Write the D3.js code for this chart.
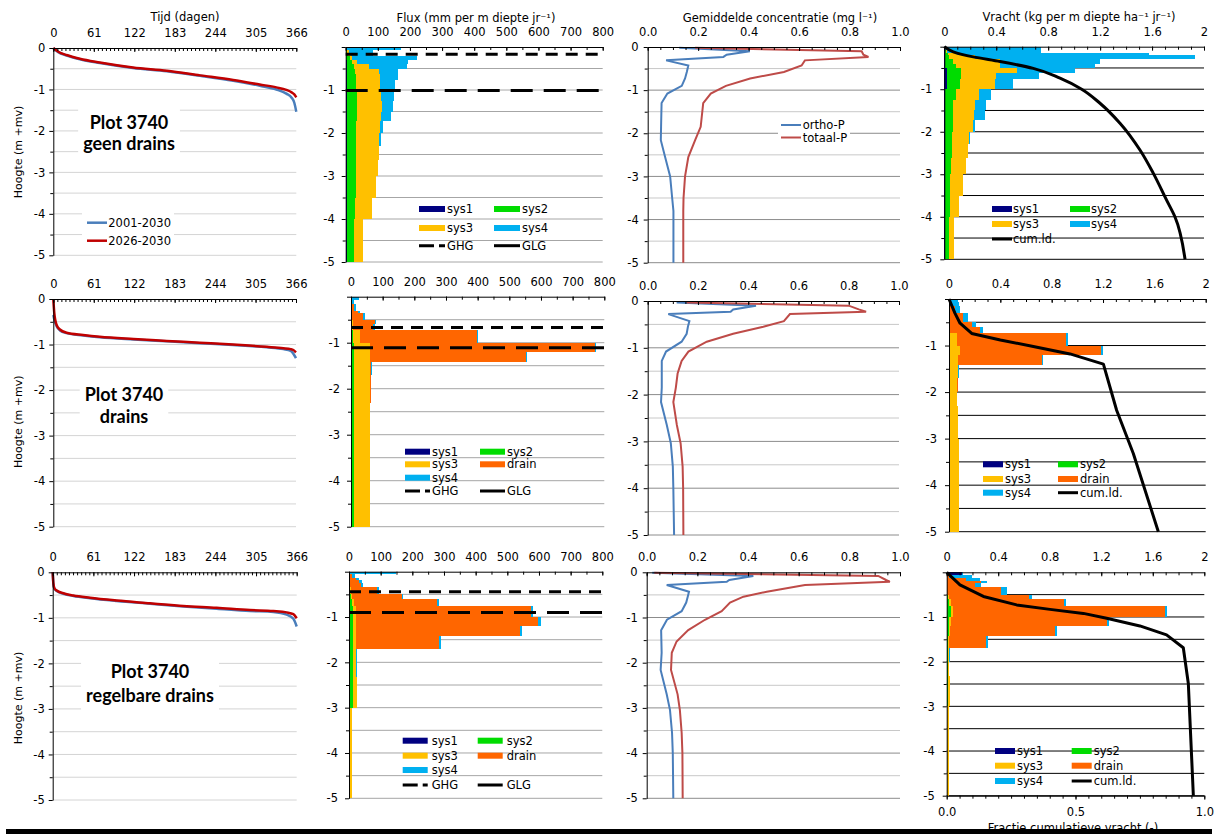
<!DOCTYPE html>
<html>
<head>
<meta charset="utf-8">
<title>Plot 3740 – grondwaterstand, flux, concentratie en vracht</title>
<script src="https://cdn.jsdelivr.net/npm/d3@7/dist/d3.min.js"></script>
<style>
  html, body { margin: 0; padding: 0; background: #fff; }
  svg { display: block; }
</style>
</head>
<body>
<svg id="chart" width="1220" height="834"></svg>
<script>
// ================= data =================
const plotName = "Plot 3740";
const scenarios = ["geen drains", "drains", "regelbare drains"];
const periods = ["2001-2030", "2026-2030"];
const concNames = ["ortho-P", "totaal-P"];
const levelNames = ["GHG", "GLG"];
const cumName = "cum.ld.";

const dayTicks = [0, 61, 122, 183, 244, 305, 366];
const fluxTicks = [0, 100, 200, 300, 400, 500, 600, 700, 800];
const concTicks = [0, 0.2, 0.4, 0.6, 0.8, 1.0];
const loadTicks = [0, 0.4, 0.8, 1.2, 1.6, 2];
const fractionTicks = [0, 0.5, 1.0];
const depthTicks = [0, -1, -2, -3, -4, -5];
const seriesKeys = ["sys1", "sys2", "sys3", "drain", "sys4"];

// --- groundwater duration lines (day of year sorted, depth m +mv)
const geenDays  = [0, 7.5, 20, 40, 70, 120, 171, 221, 271, 311, 336, 351, 359, 363, 366];
const geenHist  = [0, -0.1, -0.18, -0.27, -0.36, -0.48, -0.56, -0.67, -0.79, -0.91, -1.0, -1.1, -1.2, -1.32, -1.54];
const geenFut   = [0, -0.09, -0.17, -0.26, -0.35, -0.47, -0.55, -0.66, -0.77, -0.88, -0.95, -1.01, -1.07, -1.12, -1.19];
const drainDays = [0, 1.5, 5, 10, 20, 45, 70, 121, 171, 221, 271, 322, 347, 358, 362, 366];
const drainHist = [-0.35, -0.45, -0.6, -0.69, -0.75, -0.8, -0.84, -0.89, -0.93, -0.97, -1.01, -1.06, -1.1, -1.14, -1.2, -1.3];
const drainFut  = [0, -0.31, -0.57, -0.67, -0.74, -0.79, -0.83, -0.88, -0.92, -0.96, -1.0, -1.05, -1.08, -1.1, -1.12, -1.17];
const regelDays = [0, 1, 2.5, 6, 16, 31, 56, 96, 146, 196, 246, 296, 331, 351, 361, 366];
const regelHist = [0, -0.25, -0.36, -0.41, -0.47, -0.52, -0.57, -0.63, -0.69, -0.75, -0.8, -0.85, -0.87, -0.93, -1.02, -1.19];
const regelFut  = [0, -0.24, -0.35, -0.4, -0.46, -0.51, -0.56, -0.62, -0.68, -0.74, -0.78, -0.83, -0.85, -0.88, -0.92, -1.01];

// --- layer boundaries (m +mv)
const geenLayers  = [0, -0.08, -0.14, -0.2, -0.3, -0.4, -0.5, -0.63, -0.77, -1.0, -1.25, -1.5, -1.72, -2.0, -2.3, -2.62, -3.0, -3.5, -4.0, -5.0];
const drainLayers = [0, -0.07, -0.15, -0.3, -0.36, -0.5, -0.6, -0.73, -1.0, -1.2, -1.41, -1.7, -2.0, -2.3, -2.62, -3.0, -3.5, -4.0, -5.0];
const regelLayers = [0, -0.05, -0.13, -0.19, -0.25, -0.33, -0.5, -0.6, -0.75, -1.0, -1.2, -1.42, -1.7, -2.0, -2.32, -3.0, -3.5, -4.0, -5.0];

// --- flux per layer (mm per m depth per year)
const geenFluxSys1  = [0, 2, 2, 2, 3, 3, 3, 3, 3, 3, 3, 3, 3, 3, 3, 3, 3, 3, 3];
const geenFluxSys2  = [0, 3, 6, 12, 16, 22, 26, 28, 30, 31, 31, 31, 30, 30, 29, 29, 28, 26, 23];
const geenFluxSys3  = [0, 5, 7, 6, 17, 46, 76, 75, 74, 76, 78, 76, 74, 72, 73, 70, 62, 52, 27];
const geenFluxDrain = [0, 0, 0, 0, 0, 0, 0, 0, 0, 0, 0, 0, 0, 0, 0, 0, 0, 0, 0];
const geenFluxSys4  = [171, 76, 71, 201, 159, 121, 59, 58, 47, 40, 34, 31, 10, 5, 0, 0, 0, 0, 0];

const drainFluxSys1  = [0, 0, 0, 0, 1, 1, 1, 1, 2, 2, 2, 2, 2, 2, 2, 2, 2, 2];
const drainFluxSys2  = [0, 0, 0, 0, 1, 2, 3, 4, 6, 6, 6, 6, 6, 6, 6, 6, 6, 6];
const drainFluxSys3  = [0, 0, 0, 0, 0, 3, 3, 23, 52, 52, 52, 52, 52, 52, 52, 52, 52, 52];
const drainFluxDrain = [0, 3, 10, 22, 37, 69, 64, 369, 711, 493, 2, 4, 3, 0, 0, 0, 0, 0];
const drainFluxSys4  = [26, 8, 6, 6, 5, 5, 4, 5, 4, 4, 5, 0, 0, 0, 0, 0, 0, 0];

const regelFluxSys1  = [3, 1, 1, 1, 1, 1, 1, 1, 1, 1, 1, 1, 1, 1, 1, 1, 1, 1];
const regelFluxSys2  = [0, 0, 0, 1, 1, 2, 4, 8, 11, 11, 11, 11, 11, 11, 11, 1, 1, 1];
const regelFluxSys3  = [0, 0, 0, 0, 1, 2, 4, 6, 10, 10, 10, 10, 9, 9, 12, 8, 8, 8];
const regelFluxDrain = [0, 10, 22, 30, 35, 84, 157, 264, 553, 576, 518, 262, 0, 0, 0, 0, 0, 0];
const regelFluxSys4  = [144, 8, 10, 8, 6, 7, 6, 6, 7, 7, 7, 5, 5, 5, 0, 0, 0, 0];

// --- groundwater levels (m +mv): GHG, GLG
const geenLevels  = [-0.17, -1.01];
const drainLevels = [-0.67, -1.11];
const regelLevels = [-0.44, -0.9];

// --- mean concentrations (mg/l) at node depths
const geenNodes  = [-0.02, -0.1, -0.18, -0.23, -0.31, -0.43, -0.58, -0.73, -0.9, -1.08, -1.3, -1.85, -2.16, -2.55, -3.0, -3.5, -3.8, -5.0];
const geenOrtho  = [0.125, 0.405, 0.313, 0.3, 0.073, 0.161, 0.155, 0.148, 0.135, 0.078, 0.055, 0.053, 0.052, 0.069, 0.089, 0.097, 0.102, 0.102];
const geenTotal  = [0.188, 0.848, 0.855, 0.875, 0.623, 0.61, 0.54, 0.406, 0.31, 0.25, 0.22, 0.21, 0.188, 0.161, 0.148, 0.142, 0.141, 0.141];
const drainNodes = [-0.03, -0.1, -0.18, -0.23, -0.28, -0.43, -0.55, -0.7, -0.87, -1.08, -1.28, -1.55, -1.85, -2.16, -2.65, -3.04, -3.54, -4.0, -5.0];
const drainOrtho = [0.115, 0.431, 0.34, 0.33, 0.082, 0.166, 0.16, 0.155, 0.135, 0.073, 0.056, 0.056, 0.056, 0.053, 0.076, 0.092, 0.1, 0.102, 0.105];
const drainTotal = [0.155, 0.8, 0.84, 0.869, 0.566, 0.542, 0.46, 0.34, 0.235, 0.162, 0.135, 0.119, 0.112, 0.102, 0.116, 0.131, 0.139, 0.141, 0.142];
const regelNodes = [-0.01, -0.08, -0.17, -0.21, -0.28, -0.43, -0.54, -0.67, -0.86, -1.05, -1.28, -1.53, -1.78, -2.16, -2.7, -3.05, -3.55, -4.0, -5.0];
const regelOrtho = [0.022, 0.421, 0.326, 0.316, 0.079, 0.167, 0.162, 0.156, 0.138, 0.08, 0.057, 0.058, 0.059, 0.055, 0.079, 0.092, 0.1, 0.103, 0.105];
const regelTotal = [0.03, 0.914, 0.945, 0.96, 0.625, 0.474, 0.382, 0.329, 0.296, 0.23, 0.164, 0.118, 0.099, 0.096, 0.122, 0.131, 0.138, 0.141, 0.142];

// --- load per layer (kg per m depth per ha per year)
const geenLoadSys1  = [0.005, 0.005, 0.005, 0.005, 0.005, 0.005, 0.018, 0.018, 0.018, 0.008, 0.005, 0.005, 0.005, 0.005, 0.005, 0.005, 0.005, 0.005, 0.005];
const geenLoadSys2  = [0, 0.005, 0.025, 0.035, 0.065, 0.085, 0.112, 0.112, 0.102, 0.079, 0.065, 0.065, 0.06, 0.051, 0.051, 0.045, 0.039, 0.039, 0.031];
const geenLoadSys3  = [0, 0.01, 0.07, 0.2, 0.36, 0.34, 0.43, 0.27, 0.27, 0.183, 0.17, 0.16, 0.155, 0.134, 0.129, 0.117, 0.097, 0.072, 0.038];
const geenLoadDrain = [0, 0, 0, 0, 0, 0, 0, 0, 0, 0, 0, 0, 0, 0, 0, 0, 0, 0, 0];
const geenLoadSys4  = [0.74, 0.725, 1.48, 1.69, 0.77, 0.73, 0.45, 0.33, 0.14, 0.09, 0.08, 0.08, 0.02, 0.01, 0, 0, 0, 0, 0];

const drainLoadSys1  = [0, 0, 0, 0, 0, 0, 0, 0.001, 0.001, 0.001, 0.001, 0.001, 0.001, 0.001, 0.001, 0.001, 0.001, 0.001];
const drainLoadSys2  = [0, 0, 0, 0, 0.002, 0.003, 0.003, 0.004, 0.005, 0.005, 0.004, 0.004, 0.004, 0.004, 0.004, 0.004, 0.004, 0.004];
const drainLoadSys3  = [0, 0, 0, 0, 0, 0.005, 0.005, 0.06, 0.08, 0.065, 0.063, 0.06, 0.058, 0.062, 0.066, 0.07, 0.073, 0.076];
const drainLoadDrain = [0, 0.01, 0.045, 0.11, 0.11, 0.17, 0.235, 0.85, 1.1, 0.655, 0.003, 0.004, 0.003, 0, 0, 0, 0, 0];
const drainLoadSys4  = [0.07, 0.065, 0.041, 0.04, 0.038, 0.032, 0.022, 0.015, 0.014, 0.01, 0.008, 0, 0, 0, 0, 0, 0, 0];

const regelLoadSys1  = [0.12, 0, 0, 0, 0, 0, 0, 0, 0.002, 0, 0, 0, 0, 0, 0, 0, 0, 0];
const regelLoadSys2  = [0, 0, 0, 0, 0, 0, 0.01, 0.02, 0.03, 0.02, 0.015, 0.012, 0.012, 0.012, 0.01, 0.002, 0.002, 0.002];
const regelLoadSys3  = [0, 0, 0, 0, 0, 0.005, 0.01, 0.01, 0.02, 0.015, 0.01, 0.008, 0.005, 0.005, 0.018, 0.015, 0.015, 0.015];
const regelLoadDrain = [0, 0.02, 0.15, 0.27, 0.22, 0.42, 0.62, 0.88, 1.643, 1.207, 0.816, 0.285, 0, 0, 0, 0, 0, 0];
const regelLoadSys4  = [0.01, 0.174, 0.11, 0.046, 0.044, 0.04, 0.022, 0.02, 0.018, 0.018, 0.018, 0.018, 0.005, 0.003, 0, 0, 0, 0];

// --- cumulative load (kg/ha/yr) against depth
const geenCumDepth  = [0, -0.12, -0.24, -0.35, -0.51, -0.74, -1.0, -1.33, -1.8, -2.43, -2.98, -3.61, -4.0, -5.0];
const geenCum       = [0, 0.069, 0.223, 0.429, 0.685, 0.891, 1.058, 1.199, 1.353, 1.507, 1.61, 1.712, 1.776, 1.854];
const drainCumDepth = [0, -0.31, -0.52, -0.74, -0.88, -1.02, -1.18, -1.4, -2.39, -3.32, -5.0];
const drainCum      = [0, 0.047, 0.086, 0.177, 0.4, 0.657, 0.943, 1.203, 1.306, 1.436, 1.631];
const regelCumDepth = [0, -0.28, -0.54, -0.73, -0.83, -0.92, -1.03, -1.2, -1.4, -1.69, -2.49, -5.0];
const regelCum      = [0, 0.103, 0.285, 0.543, 0.802, 1.061, 1.242, 1.5, 1.707, 1.837, 1.876, 1.915];

// ================= per-row collections =================
const durDays = [geenDays, drainDays, regelDays];
const durHist = [geenHist, drainHist, regelHist];
const durFut = [geenFut, drainFut, regelFut];
const layers = [geenLayers, drainLayers, regelLayers];
const fluxSeries = [
  [geenFluxSys1, geenFluxSys2, geenFluxSys3, geenFluxDrain, geenFluxSys4],
  [drainFluxSys1, drainFluxSys2, drainFluxSys3, drainFluxDrain, drainFluxSys4],
  [regelFluxSys1, regelFluxSys2, regelFluxSys3, regelFluxDrain, regelFluxSys4]
];
const loadSeries = [
  [geenLoadSys1, geenLoadSys2, geenLoadSys3, geenLoadDrain, geenLoadSys4],
  [drainLoadSys1, drainLoadSys2, drainLoadSys3, drainLoadDrain, drainLoadSys4],
  [regelLoadSys1, regelLoadSys2, regelLoadSys3, regelLoadDrain, regelLoadSys4]
];
const levels = [geenLevels, drainLevels, regelLevels];
const concNodes = [geenNodes, drainNodes, regelNodes];
const concOrtho = [geenOrtho, drainOrtho, regelOrtho];
const concTotal = [geenTotal, drainTotal, regelTotal];
const cumDepth = [geenCumDepth, drainCumDepth, regelCumDepth];
const cumLoad = [geenCum, drainCum, regelCum];

// ================= layout & style =================
const FONT = "'DejaVu Sans', Verdana, sans-serif";
const LABEL_FONT = "Lato, 'Open Sans', sans-serif";
const colors = { sys1: "#000080", sys2: "#00dc00", sys3: "#ffc000", drain: "#ff6600", sys4: "#00b0f0" };
const histColor = "#4a7ebb", futColor = "#c00000";
const orthoColor = "#4a7ebb", totalColor = "#be4b48";

const frames = [
  [{ x0: 53.3, x1: 296.3, y0: 48, y1: 255.3 }, { x0: 345.7, x1: 602.7, y0: 47, y1: 262 },
   { x0: 647.7, x1: 900, y0: 47, y1: 262.7 }, { x0: 944.3, x1: 1204, y0: 46.7, y1: 259.3 }],
  [{ x0: 53.3, x1: 296, y0: 299, y1: 526.7 }, { x0: 351, x1: 604.3, y0: 296.7, y1: 526.7 },
   { x0: 647.7, x1: 899, y0: 301, y1: 535 }, { x0: 949, x1: 1205.7, y0: 299, y1: 531.7 }],
  [{ x0: 52.7, x1: 296.7, y0: 572.3, y1: 800 }, { x0: 349, x1: 602.3, y0: 571.7, y1: 798.3 },
   { x0: 646.7, x1: 900, y0: 572.3, y1: 798.3 }, { x0: 946.7, x1: 1204.3, y0: 572.3, y1: 795.7 }]
];

const svg = d3.select("#chart");
svg.append("rect").attr("width", 1220).attr("height", 834).attr("fill", "#fff");

const gridDepths = d3.range(1, 11).map(i => -0.5 * i);
const halfDepths = d3.range(0, 5).map(i => -0.5 - i);

function makePanel(r, c, domain) {
  const f = frames[r][c];
  const x = d3.scaleLinear().domain(domain).range([f.x0, f.x1]);
  const y = d3.scaleLinear().domain([0, -5]).range([f.y0, f.y1]);
  return { f, x, y, g: svg.append("g") };
}

function drawGrid(p, colorFn) {
  p.g.append("g").selectAll("line").data(gridDepths).join("line")
    .attr("x1", p.f.x0).attr("x2", p.f.x1)
    .attr("y1", d => p.y(d)).attr("y2", d => p.y(d))
    .attr("stroke", colorFn).attr("stroke-width", 1);
}

function styleAxis(s) {
  s.attr("font-family", FONT).attr("font-size", 11.5);
  s.selectAll("text").attr("fill", "#000");
  s.selectAll("line, path").attr("stroke", "#000");
}

function drawAxes(p, opt) {
  const { x, y, f, g } = p;
  g.append("g").attr("transform", `translate(0,${f.y0})`)
    .call(d3.axisTop(x).tickValues(opt.minor).tickSize(-3).tickFormat(""))
    .call(s => s.select(".domain").remove()).call(styleAxis);
  g.append("g").attr("transform", `translate(0,${f.y0})`)
    .call(d3.axisTop(x).tickValues(opt.major).tickSizeInner(-4).tickSizeOuter(0)
      .tickPadding(11).tickFormat(opt.fmt))
    .call(styleAxis);
  g.append("g").attr("transform", `translate(${f.x0},0)`)
    .call(d3.axisLeft(y).tickValues(halfDepths).tickSize(3).tickFormat(""))
    .call(s => s.select(".domain").remove()).call(styleAxis);
  g.append("g").attr("transform", `translate(${f.x0},0)`)
    .call(d3.axisLeft(y).tickValues(depthTicks).tickSizeInner(4).tickSizeOuter(0)
      .tickPadding(opt.gap - 4).tickFormat(d => (d === 0 && !opt.zero) ? "" : String(d)))
    .call(styleAxis);
}

function text(g, x, y, str, opts = {}) {
  return g.append("text").attr("x", x).attr("y", y).attr("dy", "0.35em")
    .attr("font-family", opts.family || FONT).attr("font-size", opts.size || 11.5)
    .attr("font-weight", opts.weight || 400)
    .attr("text-anchor", opts.anchor || "start").attr("fill", "#000").text(str);
}

function drawStack(p, bounds, series) {
  const rows = bounds.slice(0, -1).map((top, i) => {
    const o = { top, bottom: bounds[i + 1] };
    seriesKeys.forEach((k, j) => { o[k] = series[j][i]; });
    return o;
  });
  const stacked = d3.stack().keys(seriesKeys)(rows);
  p.g.append("g").attr("shape-rendering", "crispEdges")
    .selectAll("g").data(stacked).join("g").attr("fill", s => colors[s.key])
    .selectAll("rect").data(s => s.filter(d => d[1] > d[0])).join("rect")
    .attr("x", d => p.x(d[0])).attr("width", d => p.x(d[1]) - p.x(d[0]))
    .attr("y", d => p.y(d.data.top)).attr("height", d => p.y(d.data.bottom) - p.y(d.data.top));
}

function legendSwatch(g, key, x, y, w) {
  if (key === "GHG") {
    g.append("line").attr("x1", x).attr("x2", x + w).attr("y1", y).attr("y2", y)
      .attr("stroke", "#000").attr("stroke-width", 3).attr("stroke-dasharray", "15,5");
  } else if (key === "GLG" || key === "cum") {
    g.append("line").attr("x1", x).attr("x2", x + w).attr("y1", y).attr("y2", y)
      .attr("stroke", "#000").attr("stroke-width", 3);
  } else {
    g.append("rect").attr("x", x).attr("y", y - 3).attr("width", w).attr("height", 6)
      .attr("fill", colors[key]);
  }
}

// ---------- titles ----------
const titles = svg.append("g");
text(titles, 185, 17, "Tijd (dagen)", { anchor: "middle" });
text(titles, 476, 17.5, "Flux (mm per m diepte jr⁻¹)", { anchor: "middle" });
text(titles, 780, 17.5, "Gemiddelde concentratie (mg l⁻¹)", { anchor: "middle" });
text(titles, 1079, 17, "Vracht (kg per m diepte ha⁻¹ jr⁻¹)", { anchor: "middle" });

const yTitleCenters = [152, 421.7, 698];
const labelPos = [[129, 122.7, 144], [124, 394.3, 416.7], [150, 671.7, 695.7]];

// ================= column 1: duration lines =================
scenarios.forEach((name, r) => {
  const p = makePanel(r, 0, [0, 366]);
  drawGrid(p, () => "#d4d4d4");

  // scenario label on a white box
  const [lx, ly1, ly2] = labelPos[r];
  const lab = p.g.append("g");
  const box = lab.append("rect").attr("fill", "#fff");
  text(lab, lx, ly1, plotName, { family: LABEL_FONT, weight: 700, size: 18, anchor: "middle" });
  text(lab, lx, ly2, name, { family: LABEL_FONT, weight: 700, size: 18, anchor: "middle" });
  const bb = lab.node().getBBox();
  box.attr("x", bb.x - 5).attr("y", bb.y - 4).attr("width", bb.width + 10).attr("height", bb.height + 8);

  const days = durDays[r];
  const line = d3.line().x((d, i) => p.x(days[i])).y(d => p.y(d)).curve(d3.curveMonotoneX);
  p.g.append("path").datum(durHist[r]).attr("d", line).attr("fill", "none")
    .attr("stroke", histColor).attr("stroke-width", 2.5);
  p.g.append("path").datum(durFut[r]).attr("d", line).attr("fill", "none")
    .attr("stroke", futColor).attr("stroke-width", 2.5);

  drawAxes(p, { major: dayTicks, minor: d3.range(0, 366.1, 6.1), fmt: String, gap: 8, zero: true });

  text(svg, 18, yTitleCenters[r], "Hoogte (m +mv)", { anchor: "middle", size: 11 })
    .attr("transform", `rotate(-90,18,${yTitleCenters[r]})`).attr("dy", "0.35em");

  if (r === 0) {
    const lg = p.g.append("g");
    lg.append("rect").attr("x", 82).attr("y", 207).attr("width", 92).attr("height", 42).attr("fill", "#fff");
    [histColor, futColor].forEach((col, i) => {
      const yy = 222.7 + i * 18;
      lg.append("line").attr("x1", 87).attr("x2", 107).attr("y1", yy).attr("y2", yy)
        .attr("stroke", col).attr("stroke-width", 2.5);
      text(lg, 108.3, yy, periods[i], { size: 11.5 });
    });
  }
});

// ================= column 2: flux =================
const fluxLegendPos = [
  { sx: [419, 494], w: 26, tx: 28, ys: [209, 228, 245.7],
    items: [["sys1", 0, 0], ["sys2", 1, 0], ["sys3", 0, 1], ["sys4", 1, 1], ["GHG", 0, 2], ["GLG", 1, 2]] },
  { sx: [405, 480], w: 25, tx: 27, ys: [451.7, 464.3, 477.7, 491],
    items: [["sys1", 0, 0], ["sys2", 1, 0], ["sys3", 0, 1], ["drain", 1, 1], ["sys4", 0, 2], ["GHG", 0, 3], ["GLG", 1, 3]] },
  { sx: [402.7, 477.7], w: 25, tx: 29, ys: [740.7, 755.7, 770, 785],
    items: [["sys1", 0, 0], ["sys2", 1, 0], ["sys3", 0, 1], ["drain", 1, 1], ["sys4", 0, 2], ["GHG", 0, 3], ["GLG", 1, 3]] }
];
scenarios.forEach((name, r) => {
  const p = makePanel(r, 1, [0, 800]);
  drawGrid(p, () => "#a6a6a6");
  drawStack(p, layers[r], fluxSeries[r]);
  const dash = ["12,8", "22,11"];
  levels[r].forEach((lv, i) => {
    p.g.append("line").attr("x1", p.f.x0).attr("x2", p.f.x1).attr("y1", p.y(lv)).attr("y2", p.y(lv))
      .attr("stroke", "#000").attr("stroke-width", 3).attr("stroke-dasharray", dash[i]);
  });
  drawAxes(p, { major: fluxTicks, minor: d3.range(0, 801, 50), fmt: String, gap: 11, zero: false });
  const L = fluxLegendPos[r];
  const lg = p.g.append("g");
  L.items.forEach(([key, c, rr]) => {
    const x = L.sx[c], y = L.ys[rr];
    legendSwatch(lg, key, x, y, L.w);
    text(lg, x + L.tx, y, key);
  });
});

// ================= column 3: concentrations =================
scenarios.forEach((name, r) => {
  const p = makePanel(r, 2, [0, 1]);
  drawGrid(p, d => Number.isInteger(d) ? "#8c8c8c" : "#c8c8c8");
  const nodes = concNodes[r];
  const line = d3.line().x(d => p.x(d)).y((d, i) => p.y(nodes[i]));
  p.g.append("path").datum(concOrtho[r]).attr("d", line).attr("fill", "none")
    .attr("stroke", orthoColor).attr("stroke-width", 2);
  p.g.append("path").datum(concTotal[r]).attr("d", line).attr("fill", "none")
    .attr("stroke", totalColor).attr("stroke-width", 2);
  drawAxes(p, { major: concTicks, minor: d3.range(0, 1.001, 0.05), fmt: d3.format(".1f"), gap: 9, zero: true });
  if (r === 0) {
    const lg = p.g.append("g");
    lg.append("rect").attr("x", 778).attr("y", 117).attr("width", 72).attr("height", 28).attr("fill", "#fff");
    [orthoColor, totalColor].forEach((col, i) => {
      const yy = 125 + i * 12.5;
      lg.append("line").attr("x1", 781).attr("x2", 801).attr("y1", yy).attr("y2", yy)
        .attr("stroke", col).attr("stroke-width", 2);
      text(lg, 802.7, yy, concNames[i]);
    });
  }
});

// ================= column 4: loads =================
const loadLegendPos = [
  { sx: [992, 1070], w: 20, tx: 21, ys: [209, 224, 239],
    items: [["sys1", 0, 0], ["sys2", 1, 0], ["sys3", 0, 1], ["sys4", 1, 1], ["cum", 0, 2]] },
  { sx: [983, 1058], w: 20, tx: 22, ys: [464.3, 479, 492.7],
    items: [["sys1", 0, 0], ["sys2", 1, 0], ["sys3", 0, 1], ["drain", 1, 1], ["sys4", 0, 2], ["cum", 1, 2]] },
  { sx: [995, 1071.7], w: 20, tx: 22, ys: [751, 765.7, 781],
    items: [["sys1", 0, 0], ["sys2", 1, 0], ["sys3", 0, 1], ["drain", 1, 1], ["sys4", 0, 2], ["cum", 1, 2]] }
];
scenarios.forEach((name, r) => {
  const p = makePanel(r, 3, [0, 2]);
  drawGrid(p, () => "#000");
  drawStack(p, layers[r], loadSeries[r]);
  drawAxes(p, { major: loadTicks, minor: d3.range(0, 2.001, 0.1), fmt: String, gap: 12, zero: false });
  const cd = cumDepth[r];
  const cl = d3.line().x(d => p.x(d)).y((d, i) => p.y(cd[i]))
    .curve(r === 0 ? d3.curveMonotoneY : d3.curveLinear);
  p.g.append("path").datum(cumLoad[r]).attr("d", cl).attr("fill", "none")
    .attr("stroke", "#000").attr("stroke-width", 3).attr("stroke-linejoin", "round");
  const L = loadLegendPos[r];
  const lg = p.g.append("g");
  L.items.forEach(([key, c, rr]) => {
    const x = L.sx[c], y = L.ys[rr];
    legendSwatch(lg, key, x, y, L.w);
    text(lg, x + L.tx, y, key === "cum" ? cumName : key);
  });

  if (r === 2) {
    // cumulative fraction axis along the bottom
    const fx = d3.scaleLinear().domain([0, 1]).range([p.f.x0, p.f.x1]);
    p.g.append("g").attr("transform", `translate(0,${p.f.y1})`)
      .call(d3.axisBottom(fx).tickValues(d3.range(0, 1.001, 0.05)).tickSize(3).tickFormat(""))
      .call(s => s.select(".domain").remove()).call(styleAxis);
    p.g.append("g").attr("transform", `translate(0,${p.f.y1})`)
      .call(d3.axisBottom(fx).tickValues(fractionTicks).tickSizeInner(4).tickSizeOuter(0)
        .tickPadding(8).tickFormat(d3.format(".1f")))
      .call(styleAxis);
    text(svg, 1073, 828, "Fractie cumulatieve vracht (-)", { anchor: "middle" });
  }
});

// bottom rule
svg.append("rect").attr("x", 6).attr("y", 829).attr("width", 1206).attr("height", 5).attr("fill", "#000");
</script>
</body>
</html>
